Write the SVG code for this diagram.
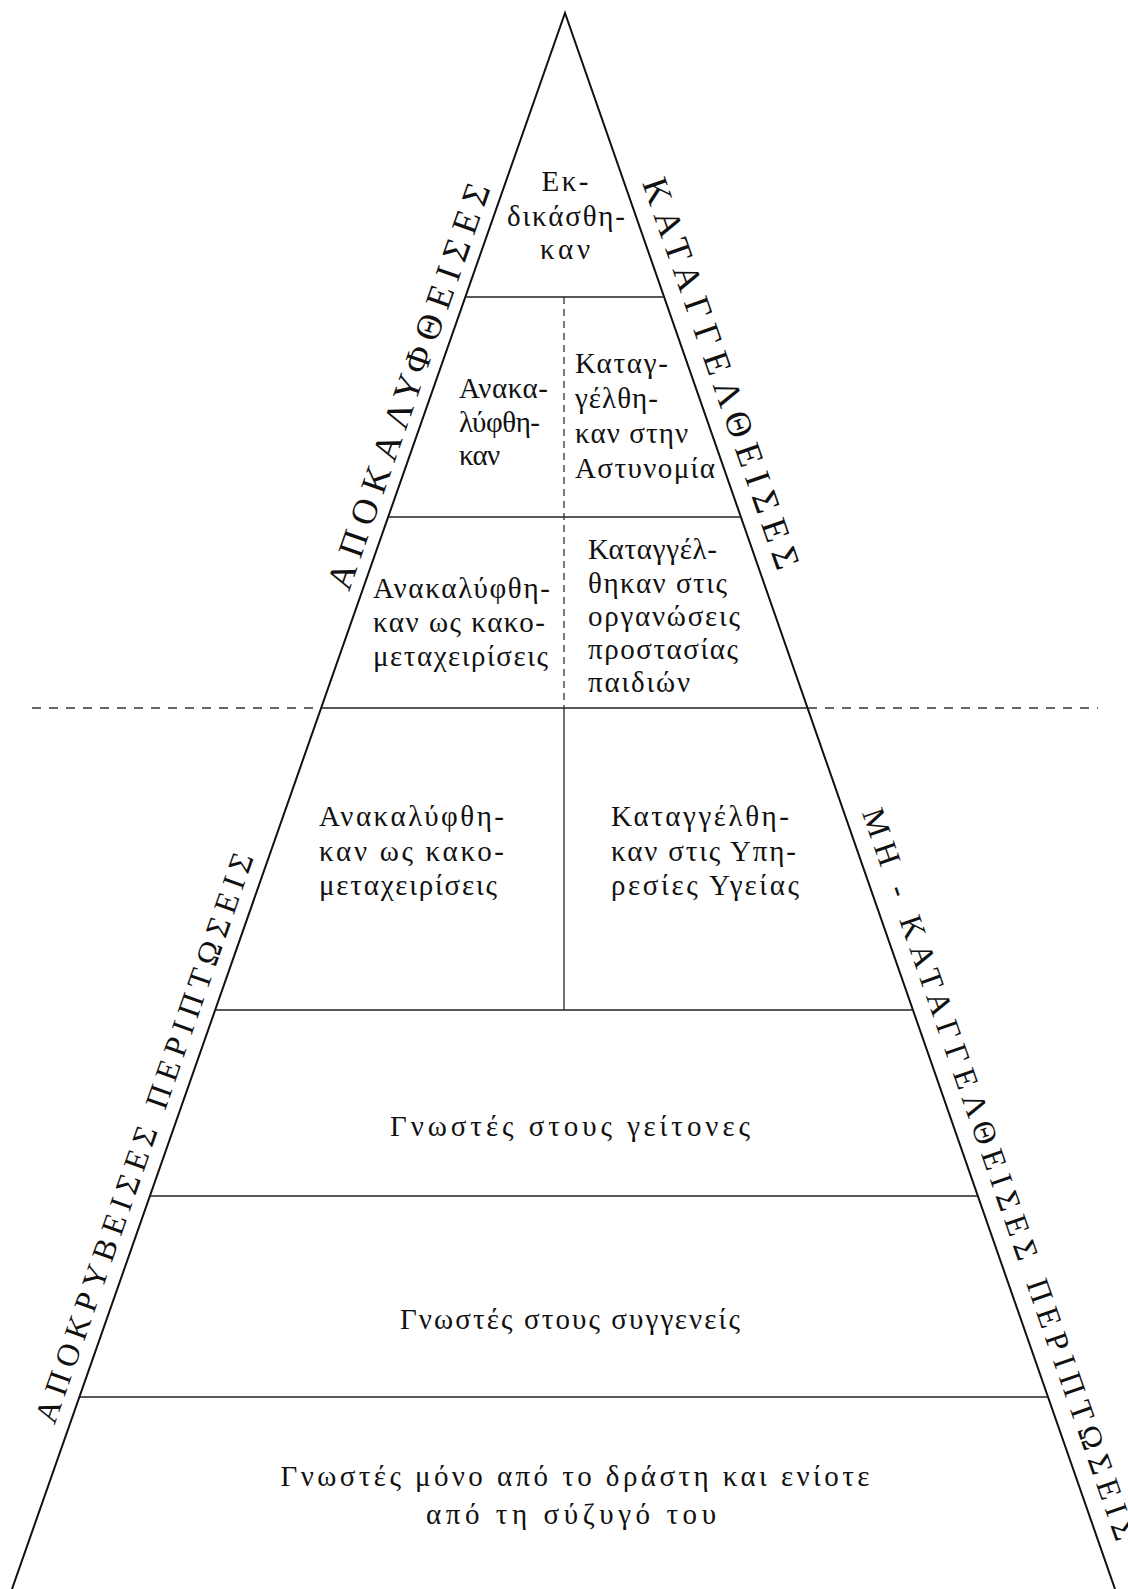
<svg xmlns="http://www.w3.org/2000/svg" width="1128" height="1589" viewBox="0 0 1128 1589">
<style>
.t{font-family:"Liberation Serif","DejaVu Serif",serif;font-size:29px;fill:#111;}
.c{text-anchor:middle;}
.lab{font-family:"Liberation Serif","DejaVu Serif",serif;font-size:36px;fill:#111;}
.lab2{font-family:"Liberation Serif","DejaVu Serif",serif;font-size:32px;fill:#111;}
.edge{stroke:#111;stroke-width:2;fill:none;}
.h{stroke:#222;stroke-width:1.5;fill:none;}
.dh{stroke:#333;stroke-width:1.5;stroke-dasharray:9 8;fill:none;}
.dv{stroke:#333;stroke-width:1.3;stroke-dasharray:7 5;fill:none;}
.v{stroke:#222;stroke-width:1.3;fill:none;}
</style>
<rect width="1128" height="1589" fill="#fff"/>
<g id="connectors">
<polyline class="edge" points="12,1589 565,13 1115,1589"/>
<line class="h" x1="465.4" y1="297" x2="664.1" y2="297"/>
<line class="h" x1="388.2" y1="517" x2="740.9" y2="517"/>
<line class="h" x1="321.1" y1="708" x2="807.5" y2="708"/>
<line class="dh" x1="32" y1="708" x2="321" y2="708"/>
<line class="dh" x1="808" y1="708" x2="1098" y2="708"/>
<line class="h" x1="215.2" y1="1010" x2="912.9" y2="1010"/>
<line class="h" x1="149.9" y1="1196" x2="977.8" y2="1196"/>
<line class="h" x1="79.4" y1="1397" x2="1048" y2="1397"/>
<line class="dv" x1="564" y1="297" x2="564" y2="708"/>
<line class="v" x1="564" y1="708" x2="564" y2="1010"/>
</g>
<g id="n-ekdikasthikan">
<text class="t c" x="565" y="191" textLength="47" lengthAdjust="spacing">Εκ-</text>
<text class="t c" x="566" y="226" textLength="118" lengthAdjust="spacing">δικάσθη-</text>
<text class="t c" x="565" y="259" textLength="50" lengthAdjust="spacing">καν</text>
</g>
<g id="n-anakalyfthikan">
<text class="t" x="459" y="398" textLength="89" lengthAdjust="spacing">Ανακα-</text>
<text class="t" x="459" y="432" textLength="81" lengthAdjust="spacing">λύφθη-</text>
<text class="t" x="459" y="465" textLength="41" lengthAdjust="spacing">καν</text>
</g>
<g id="n-astynomia">
<text class="t" x="575" y="373" textLength="93" lengthAdjust="spacing">Καταγ-</text>
<text class="t" x="575" y="408" textLength="83" lengthAdjust="spacing">γέλθη-</text>
<text class="t" x="575" y="443" textLength="113" lengthAdjust="spacing">καν στην</text>
<text class="t" x="575" y="478" textLength="140" lengthAdjust="spacing">Αστυνομία</text>
</g>
<g id="n-kakometaxeiriseis-1">
<text class="t" x="373" y="598" textLength="177" lengthAdjust="spacing">Ανακαλύφθη-</text>
<text class="t" x="373" y="632" textLength="172" lengthAdjust="spacing">καν ως κακο-</text>
<text class="t" x="373" y="666" textLength="175" lengthAdjust="spacing">μεταχειρίσεις</text>
</g>
<g id="n-organoseis">
<text class="t" x="588" y="559" textLength="129" lengthAdjust="spacing">Καταγγέλ-</text>
<text class="t" x="588" y="593" textLength="139" lengthAdjust="spacing">θηκαν στις</text>
<text class="t" x="588" y="626" textLength="152" lengthAdjust="spacing">οργανώσεις</text>
<text class="t" x="588" y="659" textLength="150" lengthAdjust="spacing">προστασίας</text>
<text class="t" x="588" y="692" textLength="102" lengthAdjust="spacing">παιδιών</text>
</g>
<g id="n-kakometaxeiriseis-2">
<text class="t" x="319" y="826" textLength="185" lengthAdjust="spacing">Ανακαλύφθη-</text>
<text class="t" x="319" y="861" textLength="185" lengthAdjust="spacing">καν ως κακο-</text>
<text class="t" x="319" y="895" textLength="178" lengthAdjust="spacing">μεταχειρίσεις</text>
</g>
<g id="n-ygeia">
<text class="t" x="611" y="826" textLength="178" lengthAdjust="spacing">Καταγγέλθη-</text>
<text class="t" x="611" y="861" textLength="185" lengthAdjust="spacing">καν στις Υπη-</text>
<text class="t" x="611" y="895" textLength="188" lengthAdjust="spacing">ρεσίες Υγείας</text>
</g>
<g id="n-geitones">
<text class="t c" x="570" y="1136" textLength="360" lengthAdjust="spacing">Γνωστές στους γείτονες</text>
</g>
<g id="n-syggeneis">
<text class="t c" x="570" y="1329" textLength="340" lengthAdjust="spacing">Γνωστές στους συγγενείς</text>
</g>
<g id="n-drasti">
<text class="t c" x="575" y="1486" textLength="589" lengthAdjust="spacing">Γνωστές μόνο από το δράστη και ενίοτε</text>
<text class="t c" x="571" y="1524" textLength="290" lengthAdjust="spacing">από τη σύζυγό του</text>
</g>
<g id="label-apokalyftheises">
<text class="lab" transform="translate(360.4,596) rotate(-70.67)" x="0" y="-12" textLength="428" lengthAdjust="spacing">ΑΠΟΚΑΛΥΦΘΕΙΣΕΣ</text>
</g>
<g id="label-katangeltheises">
<text class="lab" transform="translate(626.8,188) rotate(70.76)" x="0" y="-16" textLength="412" lengthAdjust="spacing">ΚΑΤΑΓΓΕΛΘΕΙΣΕΣ</text>
</g>
<g id="label-apokryveises">
<text class="lab2" transform="translate(67.8,1430) rotate(-70.67)" x="0" y="-14" textLength="602" lengthAdjust="spacing">ΑΠΟΚΡΥΒΕΙΣΕΣ ΠΕΡΙΠΤΩΣΕΙΣ</text>
</g>
<g id="label-mi-katangeltheises">
<text class="lab2" transform="translate(846.6,818) rotate(70.76)" x="0" y="-16" textLength="773" lengthAdjust="spacing">ΜΗ - ΚΑΤΑΓΓΕΛΘΕΙΣΕΣ ΠΕΡΙΠΤΩΣΕΙΣ</text>
</g>
</svg>
